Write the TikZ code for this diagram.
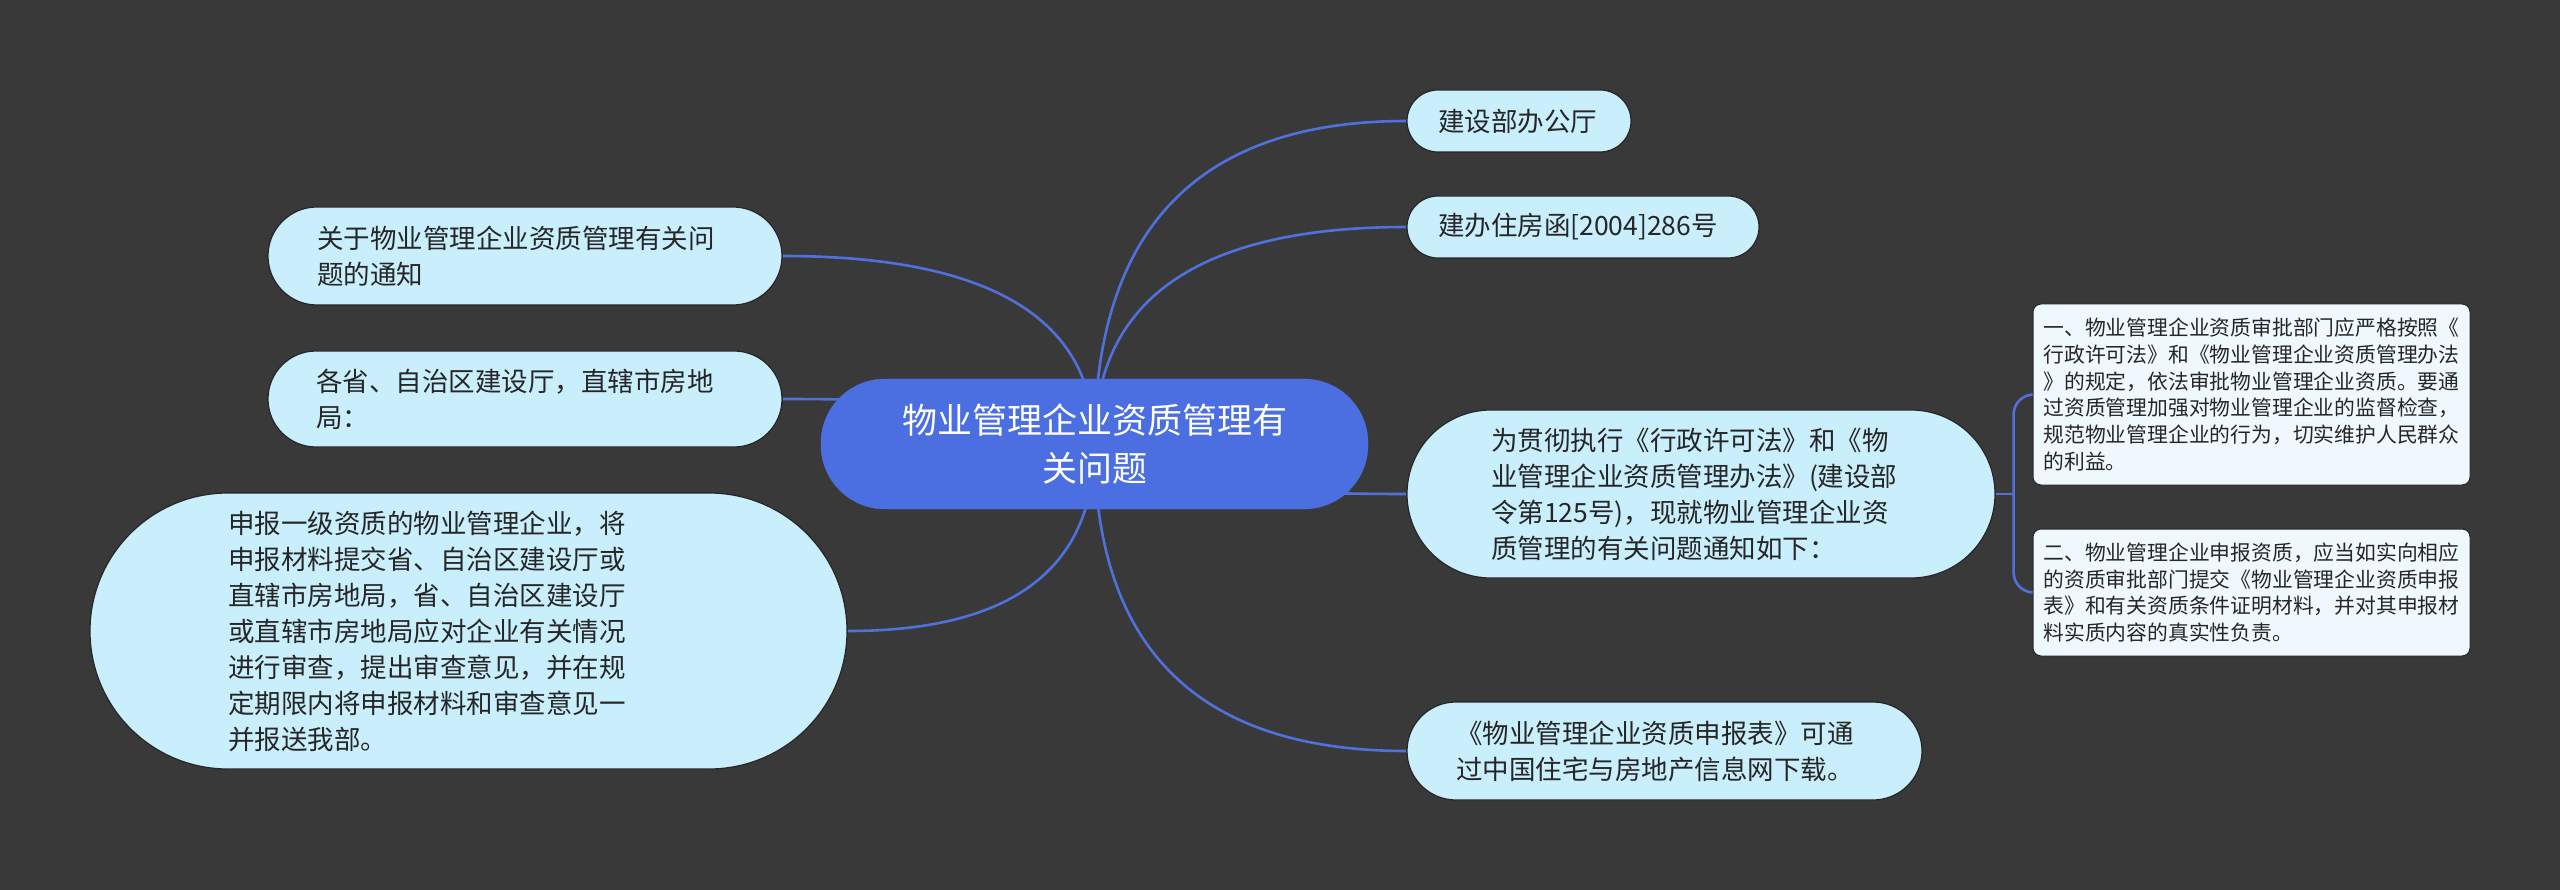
\documentclass[tikz,border=0pt]{standalone}
\usepackage{fontspec}
\setmainfont{Noto Sans CJK SC}
\definecolor{MapBg}{HTML}{3A3939}
\definecolor{MapHub}{HTML}{4B6EE0}
\definecolor{MapLink}{HTML}{5070DC}
\definecolor{MapTopic}{HTML}{C9EEFC}
\definecolor{MapNote}{HTML}{EFF9FD}
\definecolor{MapEdge}{HTML}{262626}
\usetikzlibrary{calc, backgrounds}

\begin{document}
\begin{tikzpicture}[x=1pt, y=-1pt,
    link/.style={MapLink, line width=2.6pt},
    hub/.style={draw=MapHub, fill=MapHub, text=white, align=center, inner sep=0pt,
                rounded corners=64pt, font=\fontsize{35}{48}\selectfont},
    topic/.style={draw=MapEdge, line width=1.2pt, fill=MapTopic, text=black!85,
                  align=left, inner sep=0pt, font=\fontsize{26.5}{36}\selectfont},
    pill/.style={minimum height=#1, rounded corners=#1/2},
    note/.style={draw=MapEdge, line width=1pt, fill=MapNote, text=black!85,
                 align=left, inner sep=0pt, rounded corners=8pt, minimum width=437pt,
                 font=\fontsize{20.8}{26.7}\selectfont}]
  \useasboundingbox (0,0) rectangle (2560,890);

  % centre
  \node[hub, minimum width=547pt, minimum height=130pt] (hub) at (1094.5,444)
    {物业管理企业资质管理有\\关问题};

  % left side
  \node[topic, pill=98pt, minimum width=514pt, text width=416pt] (l1) at (525,256)
    {关于物业管理企业资质管理有关问\\题的通知};
  \node[topic, pill=96pt, minimum width=514pt, text width=418pt] (l2) at (525,399)
    {各省、自治区建设厅，直辖市房地\\局：};
  \node[topic, pill=276pt, minimum width=757pt, text width=481pt] (l3) at (468.5,631)
    {申报一级资质的物业管理企业，将\\申报材料提交省、自治区建设厅或\\直辖市房地局，省、自治区建设厅\\或直辖市房地局应对企业有关情况\\进行审查，提出审查意见，并在规\\定期限内将申报材料和审查意见一\\并报送我部。};

  % right side
  \node[topic, pill=62pt, minimum width=224pt, text width=162pt] (r1) at (1519,121) {建设部办公厅};
  \node[topic, pill=62pt, minimum width=352pt, text width=290pt] (r2) at (1583,227) {建办住房函[2004]286号};
  \node[topic, pill=168pt, minimum width=588pt, text width=420pt] (r3) at (1701,494)
    {为贯彻执行《行政许可法》和《物\\业管理企业资质管理办法》(建设部\\令第125号)，现就物业管理企业资\\质管理的有关问题通知如下：};
  \node[topic, pill=98pt, minimum width=515pt, text width=417pt] (r4) at (1664.5,751)
    {《物业管理企业资质申报表》可通\\过中国住宅与房地产信息网下载。};

  % details of r3
  \node[note, minimum height=181pt] (n1) at (2251.5,394.5)
    {一、物业管理企业资质审批部门应严格按照《\\行政许可法》和《物业管理企业资质管理办法\\》的规定，依法审批物业管理企业资质。要通\\过资质管理加强对物业管理企业的监督检查，\\规范物业管理企业的行为，切实维护人民群众\\的利益。};
  \node[note, minimum height=127pt] (n2) at (2251.5,592.5)
    {二、物业管理企业申报资质，应当如实向相应\\的资质审批部门提交《物业管理企业资质申报\\表》和有关资质条件证明材料，并对其申报材\\料实质内容的真实性负责。};

  \begin{scope}[on background layer]
    \fill[MapBg] (0,0) rectangle (2560,890);
    \foreach \n in {l1,l2,l3}
      \draw[link] (hub.center) .. controls ($(hub.center)!2/3!(hub.center |- \n.east)$)
        and ($(\n.east)!2/3!(hub.center |- \n.east)$) .. (\n.east);
    \foreach \n in {r1,r2,r3,r4}
      \draw[link] (hub.center) .. controls ($(hub.center)!2/3!(hub.center |- \n.west)$)
        and ($(\n.west)!2/3!(hub.center |- \n.west)$) .. (\n.west);
    \draw[link] (r3.east) -- ++(18,0) coordinate (fork);
    \draw[link, rounded corners=20pt] (n1.west) -| (fork) |- (n2.west);
  \end{scope}
\end{tikzpicture}
\end{document}
